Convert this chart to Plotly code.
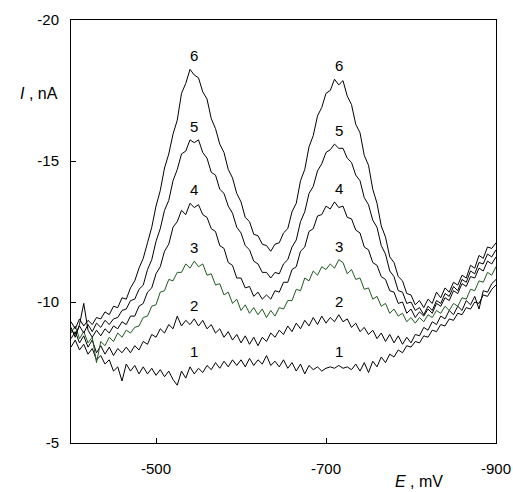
import plotly.graph_objects as go

# potential, mV (sampling step 5 mV)
E_mV = list(range(-400, -905, -5))

# current, nA  (curves 1..6)
I_1 = [-8.40, -8.65, -8.30, -8.50, -8.15, -8.35, -7.95, -8.10, -7.80, -7.95,
       -7.55, -7.70, -7.20, -7.80, -7.55, -7.75, -7.45, -7.70, -7.45, -7.65,
       -7.40, -7.60, -7.35, -7.55, -7.25, -7.05, -7.55, -7.30, -7.70, -7.45,
       -7.65, -7.50, -7.75, -7.60, -7.85, -7.65, -7.90, -7.70, -7.95, -7.75,
       -7.95, -7.70, -8.00, -7.75, -7.95, -7.80, -8.10, -7.75, -7.90, -7.70,
       -7.95, -7.65, -7.85, -7.55, -7.80, -7.45, -7.75, -7.60, -7.70, -7.55,
       -7.65, -7.70, -7.65, -7.75, -7.65, -7.70, -7.60, -7.80, -7.55, -7.85,
       -7.50, -7.90, -7.70, -8.05, -7.85, -8.15, -8.05, -8.30, -8.20, -8.45,
       -8.40, -8.60, -8.55, -8.80, -8.75, -9.00, -8.95, -9.20, -9.15, -9.40,
       -9.35, -9.60, -9.55, -9.80, -9.75, -10.00, -9.95, -10.25, -10.20, -10.45,
       -10.60]
I_2 = [-8.70, -8.95, -8.55, -8.80, -8.40, -8.65, -8.20, -8.45, -8.15, -8.40,
       -8.10, -8.35, -8.20, -8.40, -8.20, -8.45, -8.30, -8.60, -8.50, -8.85,
       -8.75, -9.05, -8.90, -9.20, -9.05, -9.50, -9.15, -9.35, -9.20, -9.40,
       -9.15, -9.35, -9.05, -9.20, -8.90, -9.05, -8.75, -8.95, -8.65, -8.85,
       -8.55, -8.80, -8.50, -8.75, -8.45, -8.75, -8.60, -8.90, -8.75, -9.00,
       -8.85, -9.15, -8.95, -9.25, -9.05, -9.35, -9.15, -9.45, -9.20, -9.50,
       -9.25, -9.45, -9.30, -9.55, -9.30, -9.40, -9.10, -9.25, -8.95, -9.10,
       -8.85, -9.00, -8.70, -8.90, -8.60, -8.85, -8.55, -8.80, -8.50, -8.75,
       -8.55, -8.85, -8.80, -9.10, -9.00, -9.30, -9.20, -9.50, -9.40, -9.70,
       -9.55, -9.85, -9.70, -10.05, -9.90, -10.20, -9.75, -10.40, -10.35, -10.65,
       -10.80]
I_3 = [-8.90, -9.15, -8.70, -8.95, -8.55, -8.75, -7.85, -8.60, -8.45, -8.75,
       -8.60, -8.90, -8.75, -9.00, -8.90, -9.10, -9.15, -9.45, -9.50, -9.85,
       -9.90, -10.35, -10.40, -10.80, -10.75, -11.05, -11.05, -11.35, -11.20, -11.45,
       -11.25, -11.35, -10.95, -11.00, -10.60, -10.65, -10.25, -10.35, -9.95, -10.10,
       -9.70, -9.90, -9.60, -9.80, -9.55, -9.75, -9.45, -9.70, -9.50, -9.80,
       -9.75, -10.05, -10.05, -10.45, -10.40, -10.85, -10.75, -11.10, -10.95, -11.25,
       -11.15, -11.35, -11.20, -11.50, -11.40, -11.00, -11.15, -10.80, -10.85, -10.45,
       -10.50, -10.10, -10.20, -9.85, -9.95, -9.60, -9.75, -9.50, -9.60, -9.30,
       -9.45, -9.25, -9.45, -9.30, -9.55, -9.45, -9.70, -9.60, -9.85, -9.70,
       -9.95, -9.85, -10.15, -10.10, -10.45, -10.40, -10.75, -10.70, -11.05, -10.95,
       -11.25]
I_4 = [-9.10, -8.75, -9.20, -9.95, -9.00, -8.75, -9.00, -8.80, -9.05, -8.90,
       -9.15, -9.05, -9.30, -9.20, -9.50, -9.50, -9.85, -9.95, -10.35, -10.50,
       -11.00, -11.25, -11.80, -12.05, -12.65, -12.85, -13.25, -13.10, -13.50, -13.35,
       -13.45, -13.10, -13.00, -12.60, -12.50, -12.00, -11.90, -11.40, -11.30, -10.85,
       -10.85, -10.50, -10.55, -10.20, -10.35, -10.10, -10.25, -10.10, -10.40, -10.35,
       -10.70, -10.70, -11.15, -11.25, -11.80, -11.95, -12.50, -12.60, -13.05, -13.10,
       -13.40, -13.30, -13.55, -13.35, -13.40, -13.00, -12.95, -12.55, -12.45, -11.95,
       -11.85, -11.40, -11.30, -10.90, -10.80, -10.40, -10.35, -9.95, -10.00, -9.60,
       -9.75, -9.45, -9.65, -9.50, -9.75, -9.60, -9.95, -9.85, -10.15, -10.05,
       -10.40, -10.30, -10.65, -10.55, -10.90, -10.85, -11.20, -11.10, -11.45, -11.35,
       -11.60]
I_5 = [-9.00, -8.85, -9.15, -8.90, -9.20, -8.95, -9.25, -9.10, -9.35, -9.20,
       -9.40, -9.45, -9.70, -9.75, -10.05, -10.10, -10.45, -10.60, -11.15, -11.50,
       -12.15, -12.60, -13.25, -13.60, -14.30, -14.70, -15.25, -15.35, -15.75, -15.65,
       -15.75, -15.30, -15.10, -14.60, -14.50, -14.00, -13.85, -13.40, -13.15, -12.65,
       -12.45, -12.00, -11.85, -11.45, -11.35, -11.05, -11.05, -10.85, -11.05, -11.00,
       -11.35, -11.50, -11.95, -12.20, -12.85, -13.20, -13.85, -14.10, -14.65, -14.90,
       -15.30, -15.40, -15.60, -15.45, -15.45, -15.10, -14.95, -14.50, -14.30, -13.70,
       -13.45, -12.90, -12.65, -12.00, -11.70, -11.10, -10.90, -10.40, -10.35, -9.95,
       -10.00, -9.70, -9.80, -9.55, -9.85, -9.70, -10.05, -9.95, -10.30, -10.20,
       -10.55, -10.40, -10.80, -10.70, -11.10, -11.00, -11.40, -11.35, -11.70, -11.60,
       -11.85]
I_6 = [-9.30, -9.05, -9.40, -9.15, -9.35, -9.20, -9.45, -9.40, -9.65, -9.55,
       -9.85, -9.80, -10.15, -10.10, -10.50, -10.75, -11.20, -11.55, -12.10, -12.65,
       -13.40, -13.95, -14.75, -15.25, -15.95, -16.45, -17.40, -17.75, -18.25, -18.05,
       -17.95, -17.45, -17.20, -16.50, -16.15, -15.60, -15.30, -14.70, -14.40, -13.85,
       -13.55, -13.00, -12.85, -12.40, -12.35, -12.05, -12.00, -11.80, -12.05, -12.10,
       -12.45, -12.60, -13.20, -13.50, -14.30, -14.70, -15.50, -15.90, -16.60, -16.90,
       -17.40, -17.50, -17.90, -17.70, -17.85, -17.30, -17.00, -16.30, -16.00, -15.20,
       -14.85, -14.00, -13.50, -12.70, -12.30, -11.60, -11.40, -10.90, -10.75, -10.30,
       -10.25, -9.90, -10.05, -9.80, -10.10, -9.95, -10.35, -10.15, -10.50, -10.35,
       -10.70, -10.60, -10.95, -10.85, -11.30, -11.20, -11.65, -11.55, -11.95, -11.90,
       -12.10]

curves = [('1', I_1), ('2', I_2), ('3', I_3), ('4', I_4), ('5', I_5), ('6', I_6)]
peak_E = [-545, -715]

x_ticks = [-500, -700, -900]
x_ticktext = ['-500', '-700', '-900']
y_ticks = [-5, -10, -15, -20]
y_ticktext = ['-5', '-10', '-15', '-20']

font = 'Arial, Liberation Sans, sans-serif'
fig = go.Figure()
for name, ys in curves:
    color = '#1e5a1e' if name == '3' else 'black'
    fig.add_scatter(x=E_mV, y=ys, mode='lines', name=name,
                    line=dict(color=color, width=1), showlegend=False)
    # curve number above each peak
    for pe in peak_E:
        i = E_mV.index(pe)
        top = min(ys[i - 3:i + 4])
        fig.add_annotation(x=pe, y=top, text=name, showarrow=False,
                           yanchor='bottom', yshift=3,
                           font=dict(size=15, color='black', family=font))

fig.add_annotation(xref='paper', yref='paper', x=-0.026, y=0.827,
                   xanchor='right', yanchor='middle', showarrow=False,
                   text='<i>I</i> , nA', font=dict(size=16, color='black', family=font))
fig.add_annotation(xref='paper', yref='paper', x=0.88, y=-0.092,
                   xanchor='right', yanchor='middle', showarrow=False,
                   text='<i>E</i> , mV', font=dict(size=16, color='black', family=font))

axis = dict(showline=True, linecolor='black', linewidth=1, mirror=True,
            ticks='inside', ticklen=5, tickcolor='black', showgrid=False,
            zeroline=False, tickfont=dict(size=15, color='black', family=font))
fig.update_xaxes(range=[-400, -900], tickvals=x_ticks, ticktext=x_ticktext,
                 ticklabelstandoff=12, **axis)
fig.update_yaxes(range=[-5, -20], tickvals=y_ticks, ticktext=y_ticktext,
                 ticklabelstandoff=8, **axis)
fig.update_layout(width=513, height=492, plot_bgcolor='white', paper_bgcolor='white',
                  margin=dict(l=71, r=17, t=20, b=49, autoexpand=False),
                  font=dict(family=font))
fig.write_html('out.html', config={'displayModeBar': False},
               post_script="document.body.style.margin='0';")
